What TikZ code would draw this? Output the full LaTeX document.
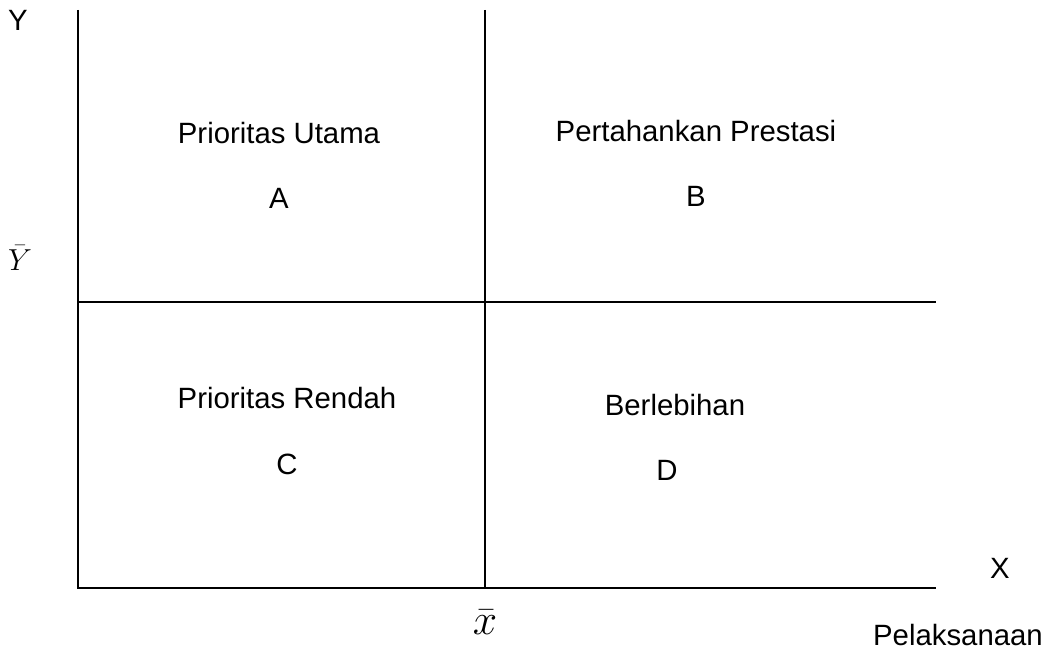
\documentclass[tikz,border=0pt]{standalone}
\usepackage{fontspec}
\setmainfont{Liberation Sans}
\usepackage{amsmath}
\usetikzlibrary{positioning,calc}

\begin{document}
\begin{tikzpicture}[
    x=0.02cm, y=-0.02cm,
    axis/.style={draw=black, line width=1.1pt},
    quad/.style={font=\fontsize{16.7}{20}\selectfont, inner sep=0pt, anchor=center},
    lbl/.style={font=\fontsize{16.7}{20}\selectfont, inner sep=0pt},
    meanlbl/.style={inner sep=0pt, font=\fontsize{18}{20}\selectfont}
]
\useasboundingbox (0,0) rectangle (1049,652);

%% ── Frame of the diagram ─────────────────────────────────────────
\coordinate (top)    at (78,10);
\coordinate (origin) at (78,588);
\coordinate (right)  at (936,588);
\coordinate (midtop) at (485,10);
\coordinate (midbot) at (485,588);
\coordinate (midl)   at (78,302);
\coordinate (midr)   at (936,302);

\draw[axis] (top) -- (origin) -- (right);
\draw[axis] (midtop) -- (midbot);
\draw[axis] (midl) -- (midr);

%% ── Quadrants ────────────────────────────────────────────────────
\node[quad] (utama)   at (279,133) {Prioritas Utama};
\node[quad] (qa)      at (279,198) {A};
\node[quad] (prestasi) at (696,131) {Pertahankan Prestasi};
\node[quad] (qb)      at (696,196) {B};
\node[quad] (rendah)  at (287,398) {Prioritas Rendah};
\node[quad] (qc)      at (287,464) {C};
\node[quad] (lebih)   at (675,405) {Berlebihan};
\node[quad] (qd)      at (667,470) {D};

%% ── Axis labels ──────────────────────────────────────────────────
\node[lbl] (ylbl) at (18,20) {Y};
\node[meanlbl] (ybar) at (20,258) {$\bar{Y}$};
\node[lbl] (xlbl) at (1000,568) {X};
\node[meanlbl, font=\fontsize{26}{28}\selectfont] (xbar) at (485,622) {$\bar{x}$};
\node[lbl] (pel) at (958,635) {Pelaksanaan};

\end{tikzpicture}
\end{document}
